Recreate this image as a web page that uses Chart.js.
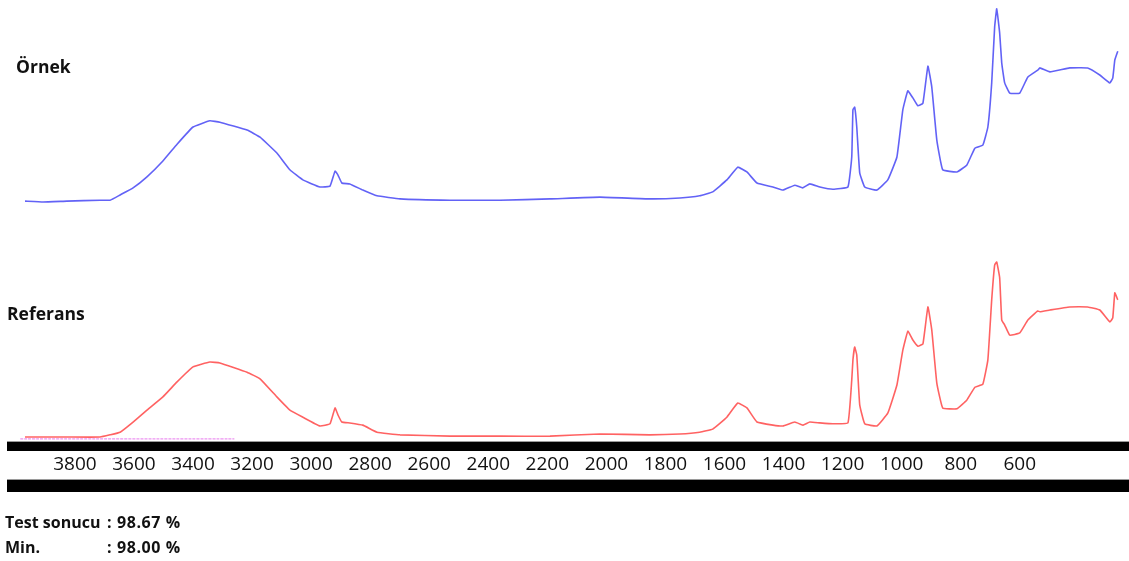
<!DOCTYPE html>
<html lang="tr">
<head>
<meta charset="utf-8">
<title>FTIR karşılaştırma</title>
<script src="https://cdn.jsdelivr.net/npm/chart.js@4.4.1/dist/chart.umd.min.js"></script>
<style>
  html, body { margin: 0; padding: 0; background: #fff; }
  #wrap { position: relative; width: 1129px; height: 561px; overflow: hidden; }
  #wrap canvas { position: absolute; left: 0; top: 0; }
  .lbl { position: absolute; font-family: 'Open Sans', sans-serif; font-weight: 700; color: #111; white-space: nowrap; line-height: 1; }
  .res { position: absolute; left: 5px; font-family: 'Open Sans', sans-serif; font-weight: 700; font-size: 16px; color: #111; line-height: 1; white-space: nowrap; }
  .res span.k { display: inline-block; width: 102px; }
  .res span.v { letter-spacing: 0.6px; }
</style>
</head>
<body>
<div id="wrap">
  <canvas id="spectra" width="1129" height="561"></canvas>
  <div class="lbl" style="left:16px; top:58px; font-size:17.5px;">Örnek</div>
  <div class="lbl" style="left:7px; top:305px; font-size:17.5px;">Referans</div>
  <div class="res" style="top:514px;"><span class="k">Test sonucu</span><span class="v">: 98.67 %</span></div>
  <div class="res" style="top:539px;"><span class="k">Min.</span><span class="v">: 98.00 %</span></div>
</div>

<script>
'use strict';

/* ── Data (wavenumber cm-1, relative signal 0..100) ── */
var wavenumbers = [3969, 3908, 3827, 3715, 3681, 3647, 3603, 3556, 3502, 3454,
  3400, 3343, 3309, 3217, 3173, 3116, 3072, 3028, 2970, 2936,
  2919, 2909, 2896, 2869, 2825, 2777, 2699, 2530, 2361, 2191,
  2022, 1853, 1751, 1684, 1640, 1592, 1555, 1524, 1490, 1436,
  1402, 1362, 1335, 1311, 1277, 1233, 1182, 1169, 1165, 1159,
  1152, 1142, 1125, 1084, 1047, 1016, 996, 979, 962, 945,
  928, 911, 898, 881, 861, 813, 779, 752, 725, 708,
  695, 685, 678, 668, 661, 651, 634, 600, 573, 539,
  532, 498, 431, 370, 329, 295, 285, 278, 268];

var ornek = [54.4, 54.2, 54.4, 54.6, 54.6, 55.8, 57.4, 59.9, 63.5, 67.3,
  71.2, 72.6, 72.3, 70.5, 68.9, 65.3, 61.5, 59.2, 57.6, 57.8,
  61.2, 60.3, 58.5, 58.3, 56.9, 55.6, 54.9, 54.6, 54.6, 54.9,
  55.3, 54.9, 55.1, 55.6, 56.5, 59.2, 62.1, 61.0, 58.5, 57.6,
  56.9, 58.0, 57.4, 58.3, 57.6, 57.1, 57.6, 64.4, 75.1, 75.7,
  71.2, 60.8, 57.6, 56.9, 59.2, 64.4, 75.1, 79.4, 77.8, 76.0,
  76.6, 85.0, 80.3, 68.3, 61.5, 61.0, 62.6, 66.4, 67.1, 71.2,
  81.2, 93.9, 98.0, 92.5, 85.7, 81.2, 78.9, 78.9, 82.5, 84.1,
  84.6, 83.7, 84.6, 84.6, 83.0, 81.2, 82.3, 86.4, 88.4];

var referans = [0.9, 0.9, 0.9, 0.9, 1.4, 2.0, 4.3, 7.0, 10.0, 13.4,
  16.8, 17.9, 17.7, 15.6, 14.1, 10.0, 7.0, 5.4, 3.4, 3.9,
  7.5, 5.9, 4.3, 4.1, 3.6, 2.0, 1.4, 1.1, 1.1, 1.1,
  1.6, 1.4, 1.6, 2.0, 2.7, 5.4, 8.6, 7.5, 4.3, 3.6,
  3.4, 4.3, 3.6, 4.3, 4.1, 3.9, 4.1, 13.8, 18.4, 21.3,
  19.5, 8.2, 3.9, 3.4, 6.3, 12.7, 20.6, 24.9, 22.9, 21.5,
  22.0, 30.4, 25.2, 13.2, 7.5, 7.3, 9.3, 12.2, 12.9, 18.4,
  32.0, 39.9, 40.6, 37.0, 27.4, 26.3, 24.0, 24.5, 27.4, 29.5,
  29.3, 29.7, 30.4, 30.4, 29.7, 27.0, 27.9, 33.6, 32.0];

/* faint magenta baseline at the lower left */
var baselineWn  = [3985, 3260];
var baselineVal = [0.5, 0.5];

var tickValues = [3800, 3600, 3400, 3200, 3000, 2800, 2600, 2400, 2200, 2000,
  1800, 1600, 1400, 1200, 1000, 800, 600];

function pairs(xs, ys) {
  return xs.map(function (x, i) { return { x: x, y: ys[i] }; });
}

/* ── Thick black rules above / below the tick labels ── */
var axisBars = {
  id: 'axisBars',
  afterDraw: function (chart) {
    var ctx = chart.ctx, xs = chart.scales.x;
    var left = chart.chartArea.left, w = chart.width - left;
    ctx.save();
    ctx.fillStyle = '#9a9a9a';
    ctx.fillRect(left, xs.top, w, 1);
    ctx.fillRect(left, xs.bottom - 1, w, 1);
    ctx.fillStyle = '#000';
    ctx.fillRect(left, xs.top + 1, w, 9);
    ctx.fillRect(left, xs.bottom, w, 12);
    ctx.restore();
  }
};

new Chart(document.getElementById('spectra'), {
  type: 'line',
  data: {
    datasets: [
      { label: 'Örnek', data: pairs(wavenumbers, ornek),
        borderColor: 'rgba(70,70,245,0.85)', borderWidth: 1.6 },
      { label: 'Referans', data: pairs(wavenumbers, referans),
        borderColor: 'rgba(255,70,70,0.85)', borderWidth: 1.6 },
      { label: 'baseline', data: pairs(baselineWn, baselineVal),
        borderColor: 'rgba(220,60,230,0.55)', borderWidth: 1.2, borderDash: [3, 1] }
    ]
  },
  options: {
    responsive: false,
    animation: false,
    elements: { point: { radius: 0 }, line: { tension: 0.1 } },
    layout: { padding: { left: 7, right: 0, top: 0, bottom: 81 } },
    plugins: { legend: { display: false }, tooltip: { enabled: false } },
    scales: {
      x: {
        type: 'linear', reverse: true, min: 230, max: 4030,
        grid: { display: false, drawTicks: false },
        border: { display: false },
        afterBuildTicks: function (s) { s.ticks = tickValues.map(function (v) { return { value: v }; }); },
        afterFit: function (s) { s.height = 39; },
        ticks: {
          autoSkip: false, maxRotation: 0, padding: 12,
          color: '#111',
          font: { family: "'Open Sans', sans-serif", size: 19 },
          callback: function (v) { return String(v); }
        }
      },
      y: { display: false, min: 0, max: 100 }
    }
  },
  plugins: [axisBars]
});
</script>
</body>
</html>
